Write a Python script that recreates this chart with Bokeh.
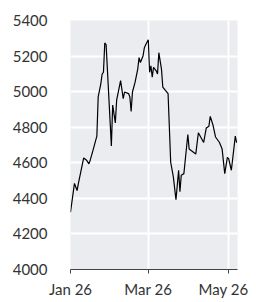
import pandas as pd
from bokeh.plotting import figure
from bokeh.models import FixedTicker, SingleIntervalTicker, DatetimeTickFormatter, Range1d
from bokeh.embed import file_html
from bokeh.resources import INLINE

dates = ["2026-01-01", "2026-01-04", "2026-01-06", "2026-01-07", "2026-01-11", "2026-01-13",
         "2026-01-15", "2026-01-16", "2026-01-18", "2026-01-20", "2026-01-21", "2026-01-22",
         "2026-01-24", "2026-01-25", "2026-01-26", "2026-01-27", "2026-01-28", "2026-02-01",
         "2026-02-02", "2026-02-04", "2026-02-05", "2026-02-08", "2026-02-10", "2026-02-11",
         "2026-02-14", "2026-02-15", "2026-02-16", "2026-02-17", "2026-02-19", "2026-02-21",
         "2026-02-22", "2026-02-23", "2026-02-25", "2026-02-26", "2026-02-27", "2026-03-01",
         "2026-03-02", "2026-03-03", "2026-03-04", "2026-03-05", "2026-03-07", "2026-03-08",
         "2026-03-09", "2026-03-11", "2026-03-12", "2026-03-14", "2026-03-16", "2026-03-18",
         "2026-03-20", "2026-03-22", "2026-03-24", "2026-03-25", "2026-03-26", "2026-03-28",
         "2026-03-29", "2026-03-31", "2026-04-01", "2026-04-06", "2026-04-08", "2026-04-12",
         "2026-04-14", "2026-04-16", "2026-04-17", "2026-04-19", "2026-04-21", "2026-04-24",
         "2026-04-26", "2026-04-28", "2026-04-30", "2026-05-01", "2026-05-03", "2026-05-06",
         "2026-05-07"]
values = [4322, 4484, 4444, 4484, 4627, 4616,
          4594, 4616, 4668, 4723, 4750, 4971,
          5044, 5099, 5109, 5274, 5265, 4695,
          4925, 4824, 4952, 5062, 4961, 4998,
          4989, 4971, 4888, 4998, 5053, 5127,
          5191, 5164, 5200, 5246, 5264, 5292,
          5109, 5145, 5081, 5136, 5117, 5099,
          5219, 5127, 5026, 5007, 4989, 4603,
          4521, 4392, 4558, 4438, 4530, 4539,
          4613, 4759, 4677, 4649, 4769, 4714,
          4796, 4806, 4861, 4814, 4745, 4714,
          4677, 4539, 4631, 4622, 4558, 4750,
          4714]
x_ticks = ["2026-01-01", "2026-03-01", "2026-05-01"]
y_start, y_end, y_step = 4000, 5400, 200
x_start, x_end = "2026-01-01", "2026-05-07 16:00"

dt = pd.to_datetime(dates)
tick_ms = [pd.Timestamp(t).value / 1e6 for t in x_ticks]

p = figure(width=248, height=300, x_axis_type="datetime", output_backend="svg",
           toolbar_location=None,
           x_range=Range1d(pd.Timestamp(x_start), pd.Timestamp(x_end)),
           y_range=Range1d(y_start, y_end),
           min_border_left=70, min_border_right=11, min_border_top=20, min_border_bottom=26)
p.background_fill_color = "#ebecf0"
p.border_fill_color = "white"
p.outline_line_color = None

p.line(dt, values, line_color="black", line_width=1.2)

p.xaxis.ticker = FixedTicker(ticks=tick_ms)
p.xaxis.formatter = DatetimeTickFormatter(months="%b %y", days="%b %y", years="%b %y")
p.yaxis.ticker = SingleIntervalTicker(interval=y_step)

p.grid.grid_line_color = "white"
p.grid.grid_line_width = 2
p.xgrid.ticker = FixedTicker(ticks=tick_ms)

for ax in (p.xaxis, p.yaxis):
    ax.major_label_text_font = "Lato"
    ax.major_label_text_font_size = "15px"
    ax.major_label_text_color = "#333333"
    ax.minor_tick_line_color = None

p.yaxis.axis_line_color = None
p.yaxis.major_tick_line_color = None
p.yaxis.major_label_standoff = 17

p.xaxis.axis_line_color = "#444444"
p.xaxis.major_tick_line_color = "#444444"
p.xaxis.major_tick_out = 4
p.xaxis.major_tick_in = 0
p.xaxis.major_label_standoff = 6

open("out.html", "w").write(file_html(p, INLINE))
